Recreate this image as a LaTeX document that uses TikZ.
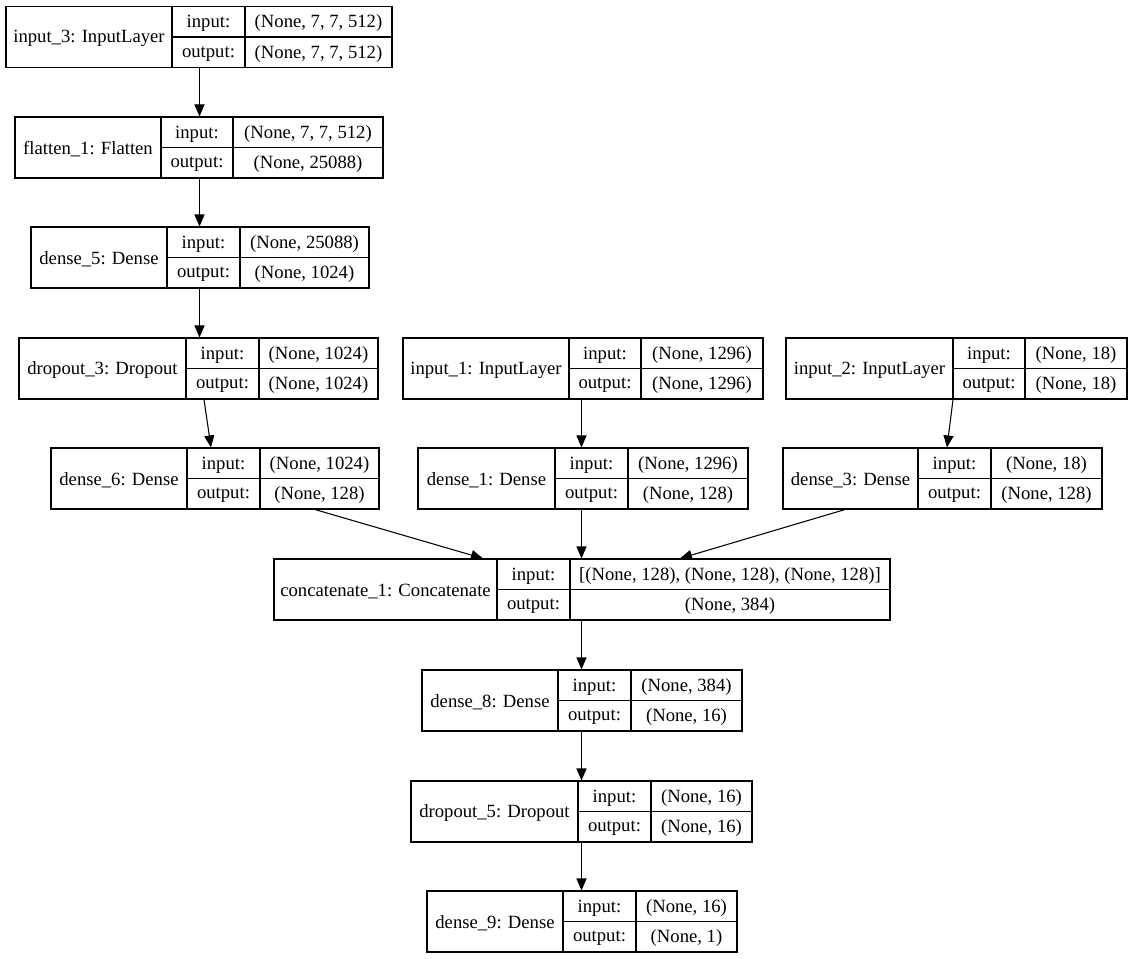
\documentclass[tikz,border=0pt]{standalone}
\usepackage{fontspec}
\setmainfont{Liberation Serif}
\usepackage{tikz}
\usetikzlibrary{arrows.meta,fit}

% one keras layer: name, four x edges, top y, label, input shape, output shape
\newcommand{\layerbox}[9]{%
  \node[box, fit={(#2,#6) (#5,#6+61)}] (#1) {};
  \draw[cell] (#3,#6) -- (#3,#6+61) (#4,#6) -- (#4,#6+61) (#3,#6+30.5) -- (#5,#6+30.5);
  \node[txt] (#1-name) at ({(#2+#3)/2},#6+30.5) {#7};
  \node[txt] (#1-in) at ({(#3+#4)/2},#6+15.25) {input:};
  \node[txt] (#1-out) at ({(#3+#4)/2},#6+45.75) {output:};
  \node[txt] (#1-inval) at ({(#4+#5)/2},#6+15.25) {#8};
  \node[txt] (#1-outval) at ({(#4+#5)/2},#6+45.75) {#9};
}

\begin{document}
\begin{tikzpicture}[x=0.75pt,y=-0.75pt,line width=0.75pt,
    box/.style={draw,inner sep=0pt,line width=0.8pt},
    cell/.style={line width=0.8pt},
    txt/.style={inner sep=0pt,yshift=-1.2pt,font=\fontsize{14pt}{16pt}\selectfont},
    flow/.style={-{Triangle[length=9pt,width=7.5pt]},line width=0.8pt}]
  \useasboundingbox (0,0) rectangle (1133,959);

  \layerbox{input3}{6}{172}{245}{392}{6.5}{input\_3: InputLayer}{(None, 7, 7, 512)}{(None, 7, 7, 512)}
  \layerbox{flatten1}{15}{161}{233}{383}{117}{flatten\_1: Flatten}{(None, 7, 7, 512)}{(None, 25088)}
  \layerbox{dense5}{31}{167}{240}{369}{227}{dense\_5: Dense}{(None, 25088)}{(None, 1024)}
  \layerbox{dropout3}{19}{186}{259}{378}{338}{dropout\_3: Dropout}{(None, 1024)}{(None, 1024)}
  \layerbox{input1}{403}{569}{641}{763}{338}{input\_1: InputLayer}{(None, 1296)}{(None, 1296)}
  \layerbox{input2}{786}{953}{1025}{1127}{338}{input\_2: InputLayer}{(None, 18)}{(None, 18)}
  \layerbox{dense6}{51}{187}{260}{379}{448}{dense\_6: Dense}{(None, 1024)}{(None, 128)}
  \layerbox{dense1}{418}{555}{628}{748}{448}{dense\_1: Dense}{(None, 1296)}{(None, 128)}
  \layerbox{dense3}{783}{918}{991}{1102}{448}{dense\_3: Dense}{(None, 18)}{(None, 128)}
  \layerbox{concat1}{274}{497}{570}{890}{559}{concatenate\_1: Concatenate}{[(None, 128), (None, 128), (None, 128)]}{(None, 384)}
  \layerbox{dense8}{422}{558}{631}{742}{670}{dense\_8: Dense}{(None, 384)}{(None, 16)}
  \layerbox{dropout5}{411}{578}{651}{752}{781}{dropout\_5: Dropout}{(None, 16)}{(None, 16)}
  \layerbox{dense9}{427}{563}{636}{737}{891}{dense\_9: Dense}{(None, 16)}{(None, 1)}

  \draw[flow] (input3.south -| 199.5,0) -- (flatten1.north -| 199.5,0);
  \draw[flow] (flatten1.south -| 199.5,0) -- (dense5.north -| 199.5,0);
  \draw[flow] (dense5.south -| 199.5,0) -- (dropout3.north -| 199.5,0);
  \draw[flow] (dropout3.south -| 204,0) -- (dense6.north -| 211,0);
  \draw[flow] (input1.south -| 581.5,0) -- (dense1.north -| 581.5,0);
  \draw[flow] (input2.south -| 953,0) -- (dense3.north -| 947,0);
  \draw[flow] (dense6.south -| 315,0) -- (concat1.north -| 483,0);
  \draw[flow] (dense1.south -| 581.5,0) -- (concat1.north -| 581.5,0);
  \draw[flow] (dense3.south -| 845,0) -- (concat1.north -| 680,0);
  \draw[flow] (concat1.south -| 581.5,0) -- (dense8.north -| 581.5,0);
  \draw[flow] (dense8.south -| 581.5,0) -- (dropout5.north -| 581.5,0);
  \draw[flow] (dropout5.south -| 581.5,0) -- (dense9.north -| 581.5,0);
\end{tikzpicture}
\end{document}
